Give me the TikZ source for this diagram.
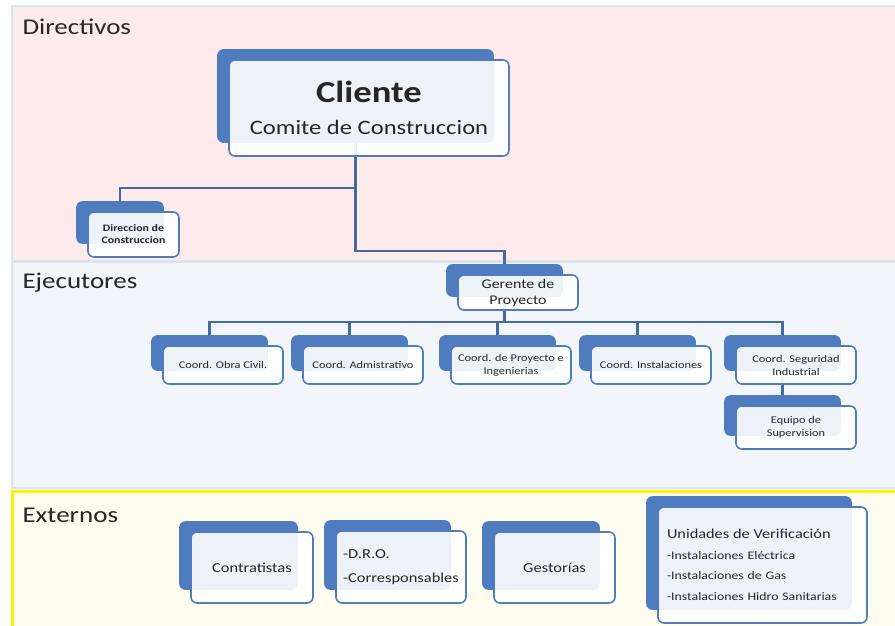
\documentclass[tikz,border=0pt]{standalone}
\usepackage{fontspec}
\setmainfont{Carlito}[FakeStretch=1.2]
\usetikzlibrary{calc,fit}
\definecolor{boxblue}{HTML}{4F7CBE}
\definecolor{linkblue}{HTML}{46699F}
\definecolor{dirpink}{HTML}{FDEBEB}
\definecolor{ejegrey}{HTML}{F2F5FA}
\definecolor{extcream}{HTML}{FEFCEE}
\definecolor{bandline}{HTML}{DAE3F0}
\definecolor{inktext}{HTML}{262626}
\pgfdeclarelayer{bands}
\pgfdeclarelayer{links}
\pgfdeclarelayer{backs}
\pgfsetlayers{bands,links,backs,main}
\tikzset{
  unit/.style={draw=boxblue, line width=1.6pt, rounded corners=6pt, fill=white,
    fill opacity=0.9, text opacity=1, text=inktext, align=center, inner sep=2pt},
  unitback/.style={fill=boxblue, rounded corners=6pt, inner sep=0pt},
  link/.style={draw=linkblue, line width=2.2pt},
  bandlabel/.style={anchor=west, font=\fontsize{22.5}{26}\selectfont, text=inktext},
  coordfont/.style={font=\fontsize{10.3}{13}\selectfont},
  extfont/.style={font=\fontsize{13.7}{16}\selectfont},
}
% blue card behind a unit
\newcommand{\unitbehind}[1]{%
  \begin{pgfonlayer}{backs}
    \node[unitback, fit={($(#1.north west)+(-11,-10)$) ($(#1.south east)+(-16,-14)$)}] (#1-b) {};
  \end{pgfonlayer}}
\begin{document}
\begin{tikzpicture}[x=1pt,y=-1pt]
  \useasboundingbox (0,0) rectangle (895,625);
  % bands
  \begin{pgfonlayer}{bands}
    \fill[white] (0,0) rectangle (895,625);
    \filldraw[fill=dirpink, draw=bandline, line width=1.5pt] (12,6) rectangle (905,261);
    \filldraw[fill=ejegrey, draw=bandline, line width=1.5pt] (12,262) rectangle (905,488);
    \filldraw[fill=extcream, draw=yellow, line width=3pt] (12.5,491.5) rectangle (905,635);
  \end{pgfonlayer}
  \node[bandlabel] (directivos) at (19,27) {Directivos};
  \node[bandlabel] (ejecutores) at (19,283) {Ejecutores};
  \node[bandlabel] (externos) at (19,515) {Externos};

  % directivos
  \node[unit, minimum width=280, minimum height=96, font=\fontsize{20.5}{32}\selectfont] (cliente) at (369,108)
    {{\fontsize{30.5}{32}\selectfont\bfseries Cliente}\\Comite de Construccion};
  \unitbehind{cliente}
  \node[unit, minimum width=91, minimum height=45, font=\fontsize{9.9}{12}\selectfont\bfseries] (direccion) at (133.5,234.5)
    {Direccion de\\Construccion};
  \unitbehind{direccion}

  % ejecutores
  \node[unit, minimum width=120, minimum height=35, font=\fontsize{13.3}{16}\selectfont] (gerente) at (518,292.5)
    {Gerente de\\Proyecto};
  \unitbehind{gerente}
  \foreach \nm/\x/\txt in {obra/223/{Coord. Obra Civil.}, admin/363/{Coord. Admistrativo},
      proy/511/{Coord. de Proyecto e\\Ingenierias}, inst/651/{Coord. Instalaciones},
      seg/796/{Coord. Seguridad\\Industrial}} {
    \node[unit, coordfont, minimum width=120, minimum height=38] (\nm) at (\x,365) {\txt};
    \unitbehind{\nm}
  }
  \node[unit, coordfont, minimum width=120, minimum height=43] (equipo) at (796,427.5)
    {Equipo de\\Supervision};
  \unitbehind{equipo}

  % externos
  \node[unit, extfont, minimum width=122, minimum height=71] (contrat) at (252,567.5) {Contratistas};
  \unitbehind{contrat}
  \node[unit, extfont, minimum width=130, minimum height=72, align=left] (dro) at (401,567)
    {-D.R.O.\\[8pt]-Corresponsables};
  \unitbehind{dro}
  \node[unit, extfont, minimum width=121, minimum height=71] (gest) at (554.5,567.5) {Gestorías};
  \unitbehind{gest}
  \node[unit, minimum width=209, minimum height=116, text width=191, inner xsep=9pt, align=left,
      font=\fontsize{11.5}{20.5}\selectfont] (unidades) at (762.5,565)
    {{\fontsize{13.6}{16}\selectfont Unidades de Verificación}\\-Instalaciones Eléctrica\\-Instalaciones de Gas\\-Instalaciones Hidro Sanitarias};
  \unitbehind{unidades}

  % connectors
  \begin{pgfonlayer}{links}
    \draw[link] (cliente-b.center) |- ($(direccion-b.north)+(0,-13)$) -- (direccion-b.north);
    \draw[link] (cliente-b.center) |- ($(gerente-b.north)+(0,-13)$) -- (gerente-b.north);
    \foreach \nm in {obra,admin,proy,inst,seg}
      \draw[link] (gerente-b.center) |- ($(\nm-b.north)+(0,-13)$) -- (\nm-b.north);
    \draw[link] (seg-b.center) -- (equipo-b.north);
  \end{pgfonlayer}
\end{tikzpicture}
\end{document}
